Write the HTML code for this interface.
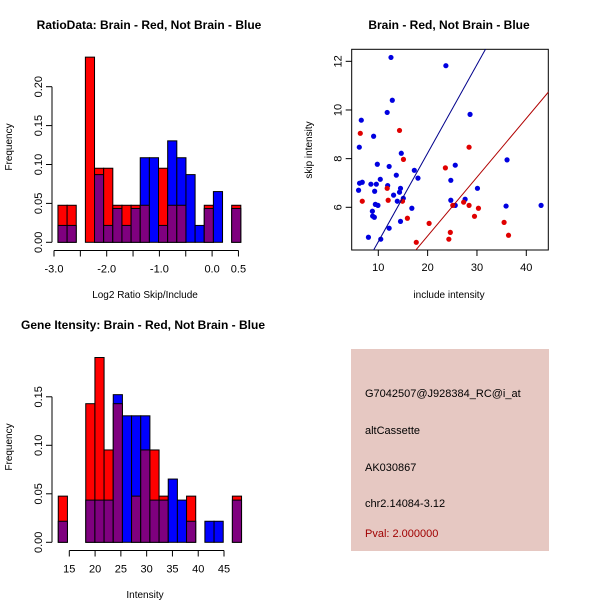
<!DOCTYPE html>
<html><head><meta charset="utf-8"><style>
body{margin:0;background:#fff}
svg{display:block;font-family:"Liberation Sans",sans-serif}
</style></head><body>
<svg id="c" width="600" height="600" viewBox="0 0 600 600" xmlns="http://www.w3.org/2000/svg">
<rect width="600" height="600" fill="#fff"/>
<text x="149" y="29" font-size="12" font-weight="bold" text-anchor="middle">RatioData: Brain - Red, Not Brain - Blue</text>
<text x="449" y="29" font-size="12" font-weight="bold" text-anchor="middle">Brain - Red, Not Brain - Blue</text>
<text x="143" y="329" font-size="12" font-weight="bold" text-anchor="middle">Gene Itensity: Brain - Red, Not Brain - Blue</text>
<text x="145" y="298" font-size="10" text-anchor="middle">Log2 Ratio Skip/Include</text>
<text x="145" y="598" font-size="10" text-anchor="middle">Intensity</text>
<text x="449" y="298" font-size="10" text-anchor="middle">include intensity</text>
<text transform="translate(12,147) rotate(-90)" font-size="10" text-anchor="middle">Frequency</text>
<text transform="translate(12,447) rotate(-90)" font-size="10" text-anchor="middle">Frequency</text>
<text transform="translate(312,150) rotate(-90)" font-size="10" text-anchor="middle">skip intensity</text>
<g>
<rect x="351" y="349" width="198" height="202" fill="#e6c8c2"/>
<text x="365" y="397" font-size="11">G7042507@J928384_RC@i_at</text>
<text x="365" y="434" font-size="11">altCassette</text>
<text x="365" y="471" font-size="11">AK030867</text>
<text x="365" y="507" font-size="11">chr2.14084-3.12</text>
<text x="365" y="537" font-size="11" fill="#a00000">Pval: 2.000000</text>
</g>
</svg>
<script>
// Ratio histogram data (20 bins from -2.925, width 0.1735)
const ratioRed  = [0.0476,0.0476,0,0.238,0.0952,0.0952,0.0476,0.0476,0.0476,0.0476,0,0.0952,0.0476,0.0476,0,0,0.0476,0,0,0.0476];
const ratioBlue = [0.0217,0.0217,0,0,0.0870,0.0217,0.0435,0.0217,0.0435,0.1087,0.1087,0.0217,0.1304,0.1087,0.0870,0.0217,0.0435,0.0652,0,0.0435];
const ratioXTicks = [-3,-2.5,-2,-1.5,-1,-0.5,0,0.5];
const ratioXLabels = ["-3.0","","-2.0","","-1.0","","0.0","0.5"];
const ratioYTicks = [0,0.05,0.10,0.15,0.20];
const ratioYLabels = ["0.00","0.05","0.10","0.15","0.20"];
// Intensity histogram data (20 bins from 12.86, width 1.78)
const intRed  = [0.0476,0,0,0.1429,0.1905,0.0952,0.1429,0,0.0476,0.0952,0.0952,0.0476,0,0,0.0476,0,0,0,0,0.0476];
const intBlue = [0.0217,0,0,0.0435,0.0435,0.0435,0.1522,0.1304,0.1304,0.1304,0.0435,0.0435,0.0652,0.0435,0.0217,0,0.0217,0.0217,0,0.0435];
const intXTicks = [15,20,25,30,35,40,45];
const intYTicks = [0,0.05,0.10,0.15];
const intYLabels = ["0.00","0.05","0.10","0.15"];
// Scatter data
const blueX = [12.57,23.7,12.84,11.8,28.6,6.55,9.05,6.15,14.66,9.8,12.2,25.6,36.1,17.3,13.65,18.04,10.4,24.7,6.2,6.75,8.5,9.6,11.9,14.5,14.3,6.0,9.26,30.1,13.1,15.07,13.85,24.7,27.6,9.4,9.93,25.6,35.9,43,16.8,8.8,8.85,9.2,14.5,12.2,8,10.5];
const blueY = [12.16,11.82,10.4,9.9,9.82,9.58,8.92,8.47,8.22,7.77,7.68,7.73,7.95,7.52,7.32,7.2,7.15,7.11,6.99,7.03,6.95,6.95,6.89,6.78,6.62,6.7,6.66,6.78,6.5,6.37,6.25,6.29,6.33,6.12,6.08,6.08,6.05,6.08,5.96,5.84,5.64,5.59,5.42,5.14,4.77,4.69];
const redX = [6.35,14.3,28.4,15.1,23.6,11.8,6.75,12.0,14.9,15.9,20.3,25.1,27.3,28.4,30.3,29.5,24.6,24.3,17.7,35.5,36.4];
const redY = [9.04,9.16,8.47,7.97,7.62,6.78,6.25,6.29,6.25,5.55,5.34,6.08,6.21,6.08,5.96,5.63,4.97,4.69,4.56,5.38,4.85];
const blueLine = [0.947,0.364]; // intercept, slope
const redLine = [-0.01,0.2416];
const scXTicks = [10,20,30,40];
const scYTicks = [6,8,10,12];

const svg = document.getElementById('c');
const NS = 'http://www.w3.org/2000/svg';
function mk(tag, attrs, parent){const e=document.createElementNS(NS,tag);for(const k in attrs)e.setAttribute(k,attrs[k]);(parent||svg).appendChild(e);return e;}

function hist(opts){
  const g = mk('g',{});
  
  
  const sx = v => opts.x0 + (v - opts.vx0) * opts.kx;
  const sy = v => opts.base - v * opts.ky;
  for(let i=0;i<opts.red.length;i++){
    const r=opts.red[i], b=opts.blue[i];
    const xl = sx(opts.start + i*opts.bw), xr = sx(opts.start + (i+1)*opts.bw);
    const top = Math.max(r,b), low = Math.min(r,b);
    if(top>0){
      const e = mk('rect',{x:xl,y:sy(top),width:xr-xl,height:sy(0)-sy(top),fill:r>=b?'#ff0000':'#0000ff',stroke:'#000','stroke-width':1},g);
      
      
    }
    if(low>0){
      const e = mk('rect',{x:xl,y:sy(low),width:xr-xl,height:sy(0)-sy(low),fill:'#7f007f',stroke:'#000','stroke-width':1},g);
      
      
    }
  }
  const xa = mk('g',{},g);
  
  
  const t0=opts.xt[0], t1=opts.xt[opts.xt.length-1];
  mk('line',{x1:sx(t0),x2:sx(t1),y1:opts.axY,y2:opts.axY,stroke:'#000'},xa);
  opts.xt.forEach((t,i)=>{
    mk('line',{x1:sx(t),x2:sx(t),y1:opts.axY,y2:opts.axY+6,stroke:'#000'},xa);
    const lab = opts.xl ? opts.xl[i] : String(t);
    if(lab){const tx=mk('text',{x:sx(t),y:opts.axY+22,'font-size':11,'text-anchor':'middle'},xa);tx.textContent=lab;}
  });
  const ya = mk('g',{},g);
  
  
  const ax = 52;
  mk('line',{x1:ax,x2:ax,y1:sy(opts.yt[0]),y2:sy(opts.yt[opts.yt.length-1]),stroke:'#000'},ya);
  opts.yt.forEach((t,i)=>{
    mk('line',{x1:ax,x2:ax-6,y1:sy(t),y2:sy(t),stroke:'#000'},ya);
    const tx=mk('text',{transform:`translate(${ax-10},${sy(t)}) rotate(-90)`,'font-size':11,'text-anchor':'middle'},ya);
    tx.textContent=opts.yl[i];
  });
}

hist({name:'ratio-histogram',red:ratioRed,blue:ratioBlue,start:-2.925,bw:0.1735,x0:54,vx0:-3,kx:52.7,base:242.3,ky:38.9/0.05,axY:250.5,xt:ratioXTicks,xl:ratioXLabels,yt:ratioYTicks,yl:ratioYLabels});
hist({name:'intensity-histogram',red:intRed,blue:intBlue,start:12.86,bw:1.777,x0:69.3,vx0:15,kx:5.157,base:542.3,ky:48.5/0.05,axY:550.5,xt:intXTicks,yt:intYTicks,yl:intYLabels});

(function(){
  const L=351.7,R=548.3,T=49.3,B=250;
  const sx = v => 378.3 + (v-10)*4.933;
  const sy = v => 207.3 - (v-6)*24.33;
  const g = mk('g',{});
  
  
  mk('defs',{},g).innerHTML='<clipPath id="clp"><rect x="'+L+'" y="'+T+'" width="'+(R-L)+'" height="'+(B-T)+'"/></clipPath>';
  const box = mk('rect',{x:L,y:T,width:R-L,height:B-T,fill:'none',stroke:'#000'},g);
  
  
  blueX.forEach((x,i)=>{const c=mk('circle',{cx:sx(x),cy:sy(blueY[i]),r:2.6,fill:'#0000e0'},g);
    
    });
  redX.forEach((x,i)=>{const c=mk('circle',{cx:sx(x),cy:sy(redY[i]),r:2.6,fill:'#e00000'},g);
    
    });
  [[blueLine,'#00008b','fit-line-blue'],[redLine,'#b00000','fit-line-red']].forEach(([ln,col,nm])=>{
    const xa=0, xb=60;
    const l=mk('line',{x1:sx(xa),y1:sy(ln[0]+ln[1]*xa),x2:sx(xb),y2:sy(ln[0]+ln[1]*xb),stroke:col,'clip-path':'url(#clp)'},g);
    
    
  });
  const xa = mk('g',{},g);
  
  
  scXTicks.forEach(t=>{mk('line',{x1:sx(t),x2:sx(t),y1:B,y2:B+6,stroke:'#000'},xa);
    const tx=mk('text',{x:sx(t),y:B+21,'font-size':11,'text-anchor':'middle'},xa);tx.textContent=t;});
  const ya = mk('g',{},g);
  
  
  scYTicks.forEach(t=>{mk('line',{x1:L,x2:L-6,y1:sy(t),y2:sy(t),stroke:'#000'},ya);
    const tx=mk('text',{transform:`translate(${L-10},${sy(t)}) rotate(-90)`,'font-size':11,'text-anchor':'middle'},ya);tx.textContent=t;});
})();
</script>
</body></html>
